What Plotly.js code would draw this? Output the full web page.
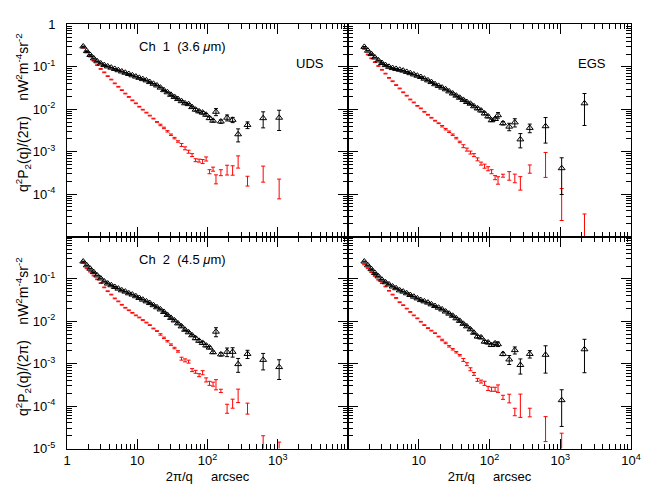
<!DOCTYPE html>
<html><head><meta charset="utf-8">
<script src="https://cdn.plot.ly/plotly-3.0.1.min.js"></script>
<style>html,body{margin:0;padding:0;background:#fff}#plot{width:664px;height:498px}</style>
</head><body><div id="plot"></div>
<script>
// angular scale 2*pi/q (arcsec)
const xDense = [1.70,1.91,2.14,2.40,2.69,3.02,3.39,3.80,4.27,4.79,5.38,6.03,6.77,7.59,8.52,9.56,10.7,12.0,13.5,15.1,17.0,19.1,21.4,24.0,26.9,30.2,33.9,38.0,42.7,47.9,53.8,60.3,67.7,75.9,85.2,95.6,107,120];
const xSparseUDS = [132,155,190,228,273,371,620,1047];
const xSparseEGS = [132,155,190,228,273,371,620,1047,2200];

// log10 of q^2 P2(q)/(2 pi) [nW^2 m^-4 sr^-2]
const udsCh1Tri = [-0.52,-0.63,-0.72,-0.80,-0.87,-0.92,-0.96,-0.99,-1.02,-1.05,-1.08,-1.11,-1.14,-1.17,-1.20,-1.23,-1.26,-1.29,-1.32,-1.36,-1.40,-1.44,-1.49,-1.55,-1.60,-1.66,-1.71,-1.76,-1.81,-1.86,-1.88,-1.95,-2.01,-2.05,-2.08,-2.13,-2.21,-2.27,
  -2.06,-2.29,-2.20,-2.25,-2.59,-2.37,-2.21,-2.20];
const udsCh1TriErr = [0.19,0.09,0.16,0.14,0.34,0.18,0.41,0.50];
const udsCh1Red = [-0.55,-0.66,-0.76,-0.86,-0.96,-1.05,-1.13,-1.22,-1.30,-1.39,-1.47,-1.55,-1.63,-1.71,-1.79,-1.86,-1.94,-2.01,-2.08,-2.15,-2.22,-2.30,-2.37,-2.44,-2.52,-2.60,-2.68,-2.76,-2.84,-2.92,-3.00,-3.08,-3.20,-3.21,-3.23,-3.17,-3.47,-3.41,
  -3.64,-3.49,-3.42,-3.43,-3.22,-3.68,-3.49,-3.82];
const udsCh1RedErr = [0.24,0.16,0.26,0.25,0.32,0.26,0.41,0.49];

const egsCh1Tri = [-0.53,-0.62,-0.70,-0.78,-0.85,-0.91,-0.96,-1.00,-1.03,-1.05,-1.07,-1.09,-1.12,-1.15,-1.18,-1.21,-1.24,-1.28,-1.32,-1.36,-1.41,-1.45,-1.49,-1.53,-1.58,-1.63,-1.68,-1.73,-1.78,-1.83,-1.87,-1.93,-1.98,-2.03,-2.10,-2.17,-2.26,-2.23,
  -2.14,-2.33,-2.41,-2.31,-2.71,-2.44,-2.40,-3.39,-1.86];
const egsCh1TriErr = [0.15,0.09,0.20,0.22,0.37,0.23,0.60,0.76,0.70];
const egsCh1Red = [-0.58,-0.71,-0.80,-0.89,-0.98,-1.07,-1.16,-1.26,-1.34,-1.43,-1.51,-1.60,-1.68,-1.77,-1.84,-1.92,-1.98,-2.06,-2.13,-2.20,-2.27,-2.33,-2.40,-2.47,-2.53,-2.60,-2.68,-2.77,-2.87,-2.95,-3.02,-3.08,-3.18,-3.28,-3.34,-3.40,-3.47,-3.61,
  -3.67,-3.565,-3.56,-3.62,-3.72,-3.40,-3.22,-4.10,-4.77];
const egsCh1RedErr = [0.20,0.08,0.23,0.23,0.35,0.22,0.59,0.70,1.0];

const udsCh2Tri = [-0.59,-0.68,-0.76,-0.84,-0.92,-0.99,-1.06,-1.11,-1.15,-1.19,-1.23,-1.27,-1.30,-1.34,-1.37,-1.41,-1.45,-1.49,-1.53,-1.57,-1.62,-1.67,-1.72,-1.78,-1.85,-1.92,-1.98,-2.05,-2.12,-2.20,-2.26,-2.33,-2.40,-2.46,-2.51,-2.57,-2.62,-2.73,
  -2.245,-2.78,-2.72,-2.72,-3.01,-2.77,-2.91,-3.08];
const udsCh2TriErr = [0.24,0.09,0.23,0.25,0.36,0.22,0.42,0.49];
const udsCh2Red = [-0.62,-0.75,-0.83,-0.92,-1.01,-1.10,-1.20,-1.29,-1.37,-1.46,-1.53,-1.61,-1.68,-1.74,-1.80,-1.86,-1.91,-1.97,-2.03,-2.09,-2.17,-2.23,-2.31,-2.39,-2.47,-2.55,-2.63,-2.71,-2.88,-2.92,-2.95,-3.15,-3.19,-3.27,-3.21,-3.38,-3.46,-3.48,
  -3.48,-3.64,-4.05,-3.93,-3.73,-4.04,-5.00,-5.15];
const udsCh2RedErr = [0.27,0.09,0.24,0.24,0.35,0.29,1.0,1.0];

const egsCh2Tri = [-0.59,-0.68,-0.77,-0.86,-0.94,-1.02,-1.08,-1.13,-1.18,-1.22,-1.27,-1.30,-1.34,-1.38,-1.42,-1.46,-1.50,-1.53,-1.56,-1.60,-1.64,-1.68,-1.72,-1.77,-1.82,-1.87,-1.93,-1.99,-2.06,-2.12,-2.19,-2.27,-2.36,-2.38,-2.48,-2.50,-2.56,-2.52,
  -2.54,-2.77,-2.90,-2.68,-3.03,-2.77,-2.79,-3.86,-2.66];
const egsCh2TriErr = [0.12,0.09,0.24,0.19,0.39,0.20,0.63,0.76,0.72];
const egsCh2Red = [-0.66,-0.75,-0.84,-0.93,-1.02,-1.10,-1.18,-1.28,-1.37,-1.45,-1.55,-1.62,-1.70,-1.78,-1.86,-1.93,-2.01,-2.09,-2.16,-2.22,-2.28,-2.36,-2.44,-2.51,-2.59,-2.66,-2.73,-2.80,-2.91,-3.01,-3.13,-3.24,-3.38,-3.42,-3.46,-3.58,-3.60,-3.60,
  -3.58,-3.79,-3.81,-4.13,-3.91,-4.14,-4.45,-4.94,null];
const egsCh2RedErr = [0.20,0.11,0.23,0.20,0.56,0.23,0.59,1.0,null];

// relative errors on the densely sampled scales
const denseErrTri = [0.02,0.02,0.02,0.02,0.02,0.02,0.02,0.02,0.02,0.02,0.02,0.02,0.02,0.02,0.02,0.02,0.02,0.02,0.02,0.02,0.02,0.02,0.02,0.02,0.02,0.04,0.04,0.04,0.04,0.04,0.04,0.04,0.07,0.07,0.07,0.07,0.07,0.07];
const denseErrRed = [0.02,0.02,0.02,0.02,0.02,0.02,0.02,0.02,0.02,0.02,0.02,0.02,0.02,0.02,0.02,0.02,0.02,0.02,0.02,0.02,0.02,0.02,0.04,0.04,0.04,0.04,0.04,0.04,0.08,0.08,0.08,0.08,0.08,0.08,0.11,0.11,0.11,0.11];

const xTickValsL = [1,10,100,1000,10000];
const xTickTextL = ['1','10','10<sup>2</sup>','10<sup>3</sup>',''];
const xTickTextR = ['','10','10<sup>2</sup>','10<sup>3</sup>','10<sup>4</sup>'];
const yTickVals = [1e-5,1e-4,1e-3,1e-2,1e-1,1];
const yTickTextTop = ['','10<sup>-4</sup>','10<sup>-3</sup>','10<sup>-2</sup>','10<sup>-1</sup>','1'];
const yTickTextBot = ['10<sup>-5</sup>','10<sup>-4</sup>','10<sup>-3</sup>','10<sup>-2</sup>','10<sup>-1</sup>',''];

const FONT = 'Liberation Sans, Arial, sans-serif';

function series(xs, logY, denseErr, sparseErr, color, tri, xa, ya) {
  const y = logY.map(v => v === null ? null : Math.pow(10, v));
  const rel = denseErr.concat(sparseErr);
  const err = y.map((v, i) => (v === null || rel[i] === null) ? null : v * rel[i]);
  return {
    x: xs, y: y, type: 'scatter', mode: 'markers', xaxis: xa, yaxis: ya,
    marker: tri ? {symbol: 'triangle-up-open', size: 6, color: color, line: {color: color, width: 1}}
                : {symbol: 'circle', size: 2, color: color, opacity: 0},
    error_y: {type: 'data', array: err, symmetric: true, color: color, thickness: 1, width: 2},
    hoverinfo: 'x+y', showlegend: false, cliponaxis: true
  };
}

const xU = xDense.concat(xSparseUDS);
const xE = xDense.concat(xSparseEGS);

const data = [
  series(xU, udsCh1Red, denseErrRed, udsCh1RedErr, '#ff0000', false, 'x', 'y'),
  series(xU, udsCh1Tri, denseErrTri, udsCh1TriErr, '#000000', true, 'x', 'y'),
  series(xE, egsCh1Red, denseErrRed, egsCh1RedErr, '#ff0000', false, 'x2', 'y2'),
  series(xE, egsCh1Tri, denseErrTri, egsCh1TriErr, '#000000', true, 'x2', 'y2'),
  series(xU, udsCh2Red, denseErrRed, udsCh2RedErr, '#ff0000', false, 'x3', 'y3'),
  series(xU, udsCh2Tri, denseErrTri, udsCh2TriErr, '#000000', true, 'x3', 'y3'),
  series(xE, egsCh2Red, denseErrRed, egsCh2RedErr, '#ff0000', false, 'x4', 'y4'),
  series(xE, egsCh2Tri, denseErrTri, egsCh2TriErr, '#000000', true, 'x4', 'y4')
];

const minorX = [];
for (let d = 0; d < 4; d++) for (let k = 2; k < 10; k++) minorX.push(k * Math.pow(10, d));
const minorY = [];
for (let d = -5; d < 0; d++) for (let k = 2; k < 10; k++) minorY.push(k * Math.pow(10, d));

const W = 664, H = 498;
const xL = [67 / W, 348 / W], xR = [348 / W, 631 / W];
const yT = [(H - 236.5) / H, (H - 24.4) / H], yB = [(H - 448.5) / H, (H - 236.5) / H];

function axisBase(kind) {
  return {
    type: 'log', showline: true, linecolor: '#000', linewidth: 1, mirror: 'ticks',
    ticks: 'inside', ticklen: 10, tickwidth: 1, tickcolor: '#000',
    showgrid: false, zeroline: false, tickmode: 'array',
    tickfont: {family: FONT, size: 13, color: '#000'},
    minor: {tickmode: 'array', tickvals: kind === 'x' ? minorX : minorY, ticks: 'inside', ticklen: 5, tickwidth: 1, tickcolor: '#000', showgrid: false}
  };
}
function xAxis(domain, anchor, text, title) {
  const a = axisBase('x');
  Object.assign(a, {range: [0, 4], domain: domain, anchor: anchor, tickvals: xTickValsL,
    ticktext: text || xTickTextL, showticklabels: !!text});
  if (title) a.title = {text: '2π/q\u00a0\u00a0\u00a0\u00a0\u00a0arcsec', font: {family: FONT, size: 13, color: '#000'}, standoff: 4};
  return a;
}
function yAxis(domain, anchor, text) {
  const a = axisBase('y');
  Object.assign(a, {range: [-5, 0], domain: domain, anchor: anchor, tickvals: yTickVals,
    ticktext: text || yTickTextTop, showticklabels: !!text, ticklabelstandoff: 8});
  return a;
}

const yTitle = 'q<sup>2</sup>P<sub>2</sub>(q)/(2π)\u00a0\u00a0\u00a0\u00a0nW<sup>2</sup>m<sup>-4</sup>sr<sup>-2</sup>';
function ann(text, px, py, extra) {
  return Object.assign({text: text, x: px / W, y: 1 - py / H, xref: 'paper', yref: 'paper',
    xanchor: 'center', yanchor: 'middle', showarrow: false,
    font: {family: FONT, size: 13, color: '#000'}}, extra || {});
}

const layout = {
  width: W, height: H, margin: {l: 0, r: 0, t: 0, b: 0},
  paper_bgcolor: '#fff', plot_bgcolor: '#fff', showlegend: false,
  xaxis: xAxis(xL, 'y', null, false),
  yaxis: yAxis(yT, 'x', yTickTextTop),
  xaxis2: xAxis(xR, 'y2', null, false),
  yaxis2: yAxis(yT, 'x2', null),
  xaxis3: xAxis(xL, 'y3', xTickTextL, true),
  yaxis3: yAxis(yB, 'x3', yTickTextBot),
  xaxis4: xAxis(xR, 'y4', xTickTextR, true),
  yaxis4: yAxis(yB, 'x4', null),
  annotations: [
    ann('Ch\u00a0\u00a01\u00a0\u00a0(3.6\u00a0<i>μ</i>m)', 182, 47),
    ann('UDS', 310, 63),
    ann('EGS', 592, 63),
    ann('Ch\u00a0\u00a02\u00a0\u00a0(4.5\u00a0<i>μ</i>m)', 182, 259),
    ann(yTitle, 23, 113, {textangle: -90, font: {family: FONT, size: 14, color: '#000'}}),
    ann(yTitle, 23, 337, {textangle: -90, font: {family: FONT, size: 14, color: '#000'}})
  ]
};

Plotly.newPlot('plot', data, layout, {staticPlot: true, displayModeBar: false});
</script>
</body></html>
